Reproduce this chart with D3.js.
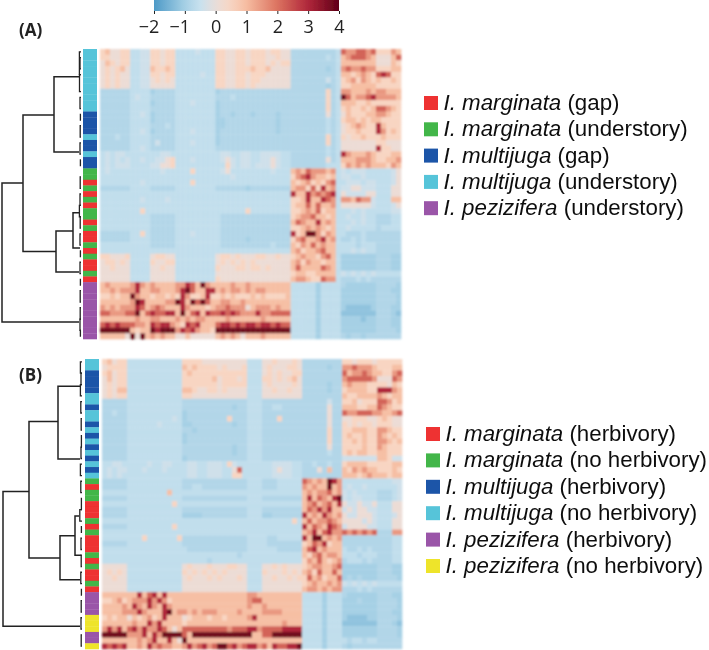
<!DOCTYPE html>
<html><head><meta charset="utf-8">
<script src="https://cdnjs.cloudflare.com/ajax/libs/d3/7.8.5/d3.min.js"></script>
<style>html,body{margin:0;padding:0;background:#fff}svg{display:block}</style>
</head><body>
<script>
// value table for the level characters used in the heatmap rows
const levelValues = {"0":-1.25,"1":-1.0,"2":-0.82,"3":-0.6,"4":-0.4,"5":0.1,"6":0.5,"7":0.95,"8":1.5,"9":2.2,"a":3.0,"b":3.8};
const colorTicks = [-2,-1,0,1,2,3,4];
const colorStops = [-2,-1,-0.5,0,0.5,1,2,3,4];
const colorHex = ["#4d9ac7","#a6d0e5","#c8e1ee","#e9dedA","#f8d5c2","#f6bca1","#dc7360","#b0263a","#5f0018"];
const groupNames = {r:"I. marginata",g:"I. marginata",b:"I. multijuga",c:"I. multijuga",p:"I. pezizifera",y:"I. pezizifera"};
const groupColors = {r:"#ee3030",g:"#42b649",b:"#1e55a8",c:"#56c4d9",p:"#9a55a8",y:"#eee42a"};

const rowsA = [
"675566 3344 66566 33334333 665566566656655 222222222 3 9889989 666 87",
"665566 3344 66566 33333333 665566566655655 222222232 3 7899987 555 79",
"576566 3344 66566 33333333 665566566656566 222222222 3 7777777 555 76",
"565675 3344 76676 33333333 665566676675555 222222212 3 8988988 666 77",
"565655 3344 66566 33333433 665566566655555 222222222 3 7767876 9a9 66",
"565655 3344 56565 33333333 665566566555555 222222242 3 6786876 766 76",
"565655 3344 55555 33333333 665566565555555 222222212 3 6677777 666 66",
"222222 3333 12222 33333333 122222222222222 222222262 3 8877787 887 77",
"222222 3433 22222 33333333 222322222222222 222222262 3 b97889a 888 87",
"222222 3333 12222 33343333 122222222222222 222222262 3 7776676 666 66",
"222222 3333 22222 33333333 122222222222222 222222262 3 6766767 998 76",
"222222 3343 12222 33333333 122122212222122 222222252 3 5766677 887 66",
"222222 3333 12222 33333333 112222222222122 222222232 3 6776767 766 66",
"222222 3333 22232 33333333 112222222222122 222222232 3 5678766 a76 66",
"222222 3343 12222 33343333 122222222222122 222222232 3 5667666 a86 76",
"222322 3333 22222 33333333 122222222222222 222222262 3 6566766 676 66",
"222222 3333 24222 33343333 122222222222222 222222262 3 5555555 665 55",
"222222 3343 22222 33333333 222222222222222 222222232 3 5555555 a66 55",
"343443 3333 33443 33333333 344334433444433 222222232 3 a877787 666 77",
"343434 3343 34456 33343333 345434433445433 222222252 3 7778887 667 78",
"343444 3333 44556 33333333 336434434445433 222222233 3 6878787 776 87",
"343333 3333 33433 33363333 345333333334333 787988878 3 4344433 333 45",
"333333 3333 33333 33333333 333433333333333 689a87767 3 4433433 333 45",
"333333 3343 33333 33363333 333333333333333 767867689 3 3444344 333 45",
"222222 3333 22222 33333333 222222122222222 788696a78 3 4455444 333 55",
"333333 3333 33333 33333333 333333333333333 a77a8989a 3 5444455 333 55",
"333333 3343 33343 33333333 333333333333333 667a77a98 3 8879884 333 77",
"333333 3333 33333 33333333 333333333333333 677979778 3 5555554 333 45",
"333333 3363 33333 33333333 333333633333333 667879677 3 3343433 333 44",
"333333 3333 22222 33333333 322222222222222 678897767 3 3433433 222 33",
"333333 3333 22222 33333333 322222222222222 79877a787 3 3343433 222 33",
"333333 3333 22222 33333333 322222222222222 667878767 3 3433333 233 33",
"222222 3363 22222 33343333 322222222222222 a67bb8687 3 3222322 222 22",
"222222 3333 22222 33333333 322222122222222 689778a78 3 2232322 222 22",
"333333 3333 22222 33333333 322222222223222 768797877 3 3332333 222 22",
"333333 3333 33333 33333333 333333333333333 786778977 3 3343433 222 22",
"665556 3333 56655 33333333 566565556655655 678776897 3 1111111 222 11",
"566565 3333 65566 33333333 565656565555555 786877677 3 1111111 222 11",
"556555 3333 55655 33333333 655566566565555 797777987 3 1111111 222 11",
"555555 3333 55555 33333333 555555555555555 677667777 3 4343434 333 33",
"555555 3333 55555 33333333 655555555555555 788766988 3 2223232 222 22",
"787777 8a87 87777 88a97b87 777877877777777 333331333 3 2111111 222 21",
"778788 8a77 88777 8ab977aa 787887878877777 333331333 3 1111111 222 11",
"667677 b877 67767 6a8667a6 676766676766667 333331333 3 1111111 222 21",
"777777 8ba7 77788 ba7b9b97 788778777777777 333331333 3 1111111 222 21",
"878788 8a97 89877 7a877767 889888578887877 333331333 3 1000001 222 11",
"998889 9b79 a99aa 7b79a7a9 9a9a9888a889999 333331333 3 0000000 222 10",
"777777 7877 88777 87878877 778777777877777 333331333 3 1111011 222 11",
"9a9a99 9887 a9aa8 76a9a777 9aa9a9aa9aa9a99 333331333 3 1111111 222 11",
"bbbbbb 7677 babbb 8a9a8776 bbbbbbbbbbbbbbb 333331333 3 1111111 222 21",
"777775 b5b7 87877 55755555 787875777877777 333331333 3 2122122 222 22"
];
const sideA = "cccccccccccbbbbcbbcbbggrgrgrggrgrrgrgrrgrpppppppppp".split("");

const rowsB = [
"67566 33333333333 6666555555555 333 55655565 22222222 6656665 666 66",
"56666 33333333333 7676666565556 333 56555665 22222122 8898887 666 77",
"67566 33333333333 6766666666666 333 56565566 22222222 9788987 766 89",
"57566 33333333333 6666667566656 333 66565675 22222222 8999998 555 98",
"56566 33333333333 6666666566666 333 56555565 22222122 7877766 665 76",
"56577 33333333333 7765566565555 333 55655655 22222122 6777766 aaa 87",
"56566 33333333333 6655555555555 333 55555555 22222222 7667777 876 77",
"22222 33333333333 2222222222222 333 22222222 22222422 6675666 998 67",
"22222 33333333333 2222222222122 333 22332222 22222522 7776677 987 66",
"22322 33333333333 1222222222222 333 22222222 22222522 9889998 877 89",
"22222 33333333343 1222222226222 333 22262222 22222522 5566655 676 55",
"22222 33333343333 1122222222122 333 22222222 22222522 6565665 666 55",
"22222 33333333333 2212222222222 333 22222222 22222622 6677766 887 66",
"22222 33333333333 1222222222222 333 22222222 22222622 6766766 876 76",
"22222 33333333333 1222222222222 333 22222222 22222622 6676766 887 67",
"22222 33333333333 2222222222122 333 22222222 22222522 6666766 876 66",
"22222 33333333333 2222222222122 333 22222222 22222322 6767766 776 66",
"22222 33333333333 1222222222222 333 22222222 22222222 4444444 776 44",
"33443 33334334433 3443344436433 333 33444433 22322322 6777766 666 77",
"34344 33343334333 3443344433593 333 33454433 22252722 7687877 666 76",
"34343 33333333333 3443344433663 333 33444433 22222222 7776787 776 77",
"22222 33333333333 2222222222222 333 22233333 98787ba8 3333333 333 44",
"22222 33333333333 2233222222222 333 22233333 87877b78 3433433 333 34",
"33333 33333333733 3333333333333 333 33333333 78788978 4343333 222 34",
"22222 33333333333 2222222222222 333 22222222 7a7987ab 4344333 222 34",
"33333 33333333363 3333333333333 333 33333333 7897897a 5445445 333 55",
"22222 33333333333 2222222222222 333 22222222 798a8a77 4545544 333 55",
"22222 33333333333 1111222222222 333 11222222 a787a878 5445554 333 45",
"33333 33333333333 3333333333333 333 33333363 79788987 5555454 333 55",
"22222 33333333363 3333333333333 333 33333333 a7987a98 4555544 333 55",
"33333 33333333333 3333333333333 333 33333333 78a79a88 9898989 222 88",
"33333 33363333336 2222222222222 333 32233333 a7bb7878 2222222 222 33",
"22222 33333333333 2222222222222 333 32222222 6798a677 2222222 222 33",
"33333 33333333333 3222222222222 333 33322222 79a78777 3223232 222 33",
"33333 33333333333 3333333333323 333 33333333 76897887 3332333 222 33",
"33333 33333333333 3333323333333 333 33333333 68797678 2333232 222 33",
"55555 33333333333 5655565556655 333 55656555 67887789 1111111 222 11",
"56565 33333333333 6565656565555 333 65556565 78697797 1111111 222 11",
"55655 33333333333 5655565655565 333 55655656 69786779 1212111 222 21",
"55555 33333333333 5555555555555 333 55555555 67877878 4343434 333 33",
"55555 33333333333 5555555555555 333 55555555 78878788 2223232 222 22",
"77777 77a79a7a777 7777777777777 887 77777777 33331333 2111111 222 11",
"66786 7888a8a8677 7777777777777 899 77777777 33331333 1112111 222 21",
"77778 7a87a87a877 7777777777777 877 87777777 33331333 1111111 222 21",
"77778 88a8777ab78 8787888777787 777 88887777 33331333 1111111 222 11",
"67677 5767867a777 5677767767777 8a7 77777777 33331333 1000011 222 21",
"77777 7877a8a7777 6777777777777 777 77778777 33331333 0000000 222 10",
"8a8a7 9a8a88a9757 9999999998999 aa8 9999aaaa 33331333 1111111 222 21",
"bbbbb 888a7a8bbbb 97bbbbbbbbbbb b77 99bbbbbb 33331333 1111111 222 21",
"77777 77878a77a75 b777777777777 777 77777777 33331333 3233233 222 22",
"a9a9a 7787a898877 8a89a89bb9a89 aa8 97a99aab 33331333 2122222 222 22"
];
const sideB = "ccbbbbccbccbcbcbcbcbcgrggrrrgrgrrrgrgrrgrppppyyyppy".split("");

// dendrogram merges: [height, top row, top child height, bottom row, bottom child height]
const mergesA = [
[79,23.55,58,48,2],[58,11.6,27,35.6,25],[27,4.9,2,18.1,2],[25,32,8,39.2,2],[8,28.8,1,35,1]
];
const tipsA = [[0,4,1.6],[1,3,1],[4,7,1.5],[8,10,1],[11,12,.6],[13,15,.8],[16,18,1],[19,20,.6],[22,24,.8],[25,27,1],[27,29,1.6],[29,31,.8],[32,34,1],[35,36,.6],[37,39,1],[40,41,.6],[42,44,.8],[45,47,.8],[47,49,1],[49,50,.6]];
const mergesB = [
[79,23.3,53,47,2],[53,11,24,35,22],[24,4.8,2,17.6,2],[22,31.1,7,38.8,2],[7,27.6,3,34.5,1]
];
const tipsB = [[0,2,1.6],[2,4,1],[4,6,1.6],[7,9,1.2],[10,12,.8],[13,15,.6],[15,17,1],[18,20,1.6],[21,23,1.2],[24,26,.6],[26,28,2.2],[29,30,.6],[31,33,1],[34,36,.8],[37,39,1.2],[40,41,.6],[42,44,.8],[45,47,1],[48,50,.8]];

const legendA = [["r","(gap)"],["g","(understory)"],["b","(gap)"],["c","(understory)"],["p","(understory)"]];
const legendB = [["r","(herbivory)"],["g","(no herbivory)"],["b","(herbivory)"],["c","(no herbivory)"],["p","(herbivory)"],["y","(no herbivory)"]];

const W=709,H=650;
const svg=d3.select("body").append("svg").attr("width",W).attr("height",H);
const defs=svg.append("defs");
defs.append("filter").attr("id","bl").attr("x","-2%").attr("y","-2%").attr("width","104%").attr("height","104%")
  .append("feGaussianBlur").attr("stdDeviation",0.8);
defs.append("filter").attr("id","bt").attr("x","-5%").attr("y","-5%").attr("width","110%").attr("height","110%")
  .append("feGaussianBlur").attr("stdDeviation",0.3);

const color=d3.scaleLinear().domain(colorStops).range(colorHex).clamp(true);

// colour bar
const cb=d3.scaleLinear().domain([-2,4]).range([154,339]);
const grad=defs.append("linearGradient").attr("id","cbg");
d3.range(0,1.001,0.05).forEach(t=>grad.append("stop").attr("offset",t).attr("stop-color",color(-2+6*t)));
svg.append("rect").attr("x",cb(-2)).attr("y",0).attr("width",cb(4)-cb(-2)).attr("height",11).attr("fill","url(#cbg)").attr("filter","url(#bt)");
const ax=svg.append("g").attr("transform","translate(0,11)").attr("filter","url(#bt)")
  .call(d3.axisBottom(cb).tickValues(colorTicks).tickSize(3).tickPadding(6).tickFormat(d=>String(d).replace("-","\u2212")));
ax.select(".domain").remove();
ax.selectAll("line").attr("stroke","#222").attr("stroke-width",1);
ax.selectAll("text").attr("font-family","'Open Sans',sans-serif").attr("font-size",18).attr("fill","#222")
  .attr("dx",d=>d<0?-5.5:0);

function panel(o){
  const g=svg.append("g");
  const matrix=o.rows.map(s=>s.replace(/ /g,"").split("").map(c=>levelValues[c]));
  const nCols=60,nRows=o.rows.length;
  const x=d3.scaleBand().domain(d3.range(nCols)).range(o.xr);
  const y=d3.scaleBand().domain(d3.range(nRows)).range(o.yr);
  const yPos=d3.scaleLinear().domain([0,nRows]).range(o.yr);
  const heat=g.append("g").attr("filter","url(#bl)");
  matrix.forEach((row,i)=>{
    heat.selectAll(null).data(row).join("rect")
      .attr("x",(d,j)=>x(j)).attr("y",y(i)).attr("width",x.bandwidth()+0.3).attr("height",y.bandwidth()+0.3)
      .attr("fill",d=>color(d));
  });
  g.append("g").attr("filter","url(#bt)").selectAll("rect").data(o.side).join("rect")
    .attr("x",o.sx).attr("width",14).attr("y",(d,i)=>y(i)).attr("height",y.bandwidth()+0.3)
    .attr("fill",d=>groupColors[d]);
  const hx=d3.scaleLinear().domain([0,80]).range([o.leafX,o.leafX-80]);
  const den=g.append("g").attr("fill","none").attr("stroke","#222").attr("filter","url(#bt)");
  const u=(h,r1,h1,r2,h2)=>`M${hx(h1)},${yPos(r1)}H${hx(h)}V${yPos(r2)}H${hx(h2)}`;
  den.selectAll(".m").data(o.merges).join("path").attr("class","m").attr("stroke-width",1.5)
    .attr("d",d=>u(...d));
  den.selectAll(".t").data(o.tips).join("path").attr("class","t").attr("stroke-width",1.3)
    .attr("d",d=>u(d[2],d[0]+0.5,0,d[1]+0.5,0));
  g.append("text").attr("x",o.labelX).attr("y",o.labelY).attr("font-family","'Open Sans',sans-serif")
    .attr("font-weight",700).attr("font-size",17).attr("fill","#222").attr("filter","url(#bt)").text(o.label);
  const lg=g.append("g").selectAll("g").data(o.legend).join("g")
    .attr("transform",(d,i)=>`translate(${o.lx},${o.ly+i*o.ldy})`);
  lg.append("rect").attr("y",-7).attr("width",14).attr("height",14).attr("fill",d=>groupColors[d[0]]).attr("filter","url(#bt)");
  const t=lg.append("text").attr("x",19.5).attr("y",7).attr("font-family","'Liberation Sans',sans-serif")
    .attr("font-size",22.3).attr("fill","#111").attr("filter","url(#bt)");
  t.append("tspan").attr("font-style","italic").text(d=>groupNames[d[0]]);
  t.append("tspan").text(d=>" "+d[1]);
}
panel({rows:rowsA,side:sideA,xr:[100,401],yr:[49,339],sx:83,leafX:81,merges:mergesA,tips:tipsA,label:"(A)",labelX:19,labelY:36,legend:legendA,lx:424,ly:103,ldy:26.3});
panel({rows:rowsB,side:sideB,xr:[102,402],yr:[359,649],sx:85,leafX:82,merges:mergesB,tips:tipsB,label:"(B)",labelX:19,labelY:381,legend:legendB,lx:426,ly:434,ldy:26.4});
</script>
</body></html>
